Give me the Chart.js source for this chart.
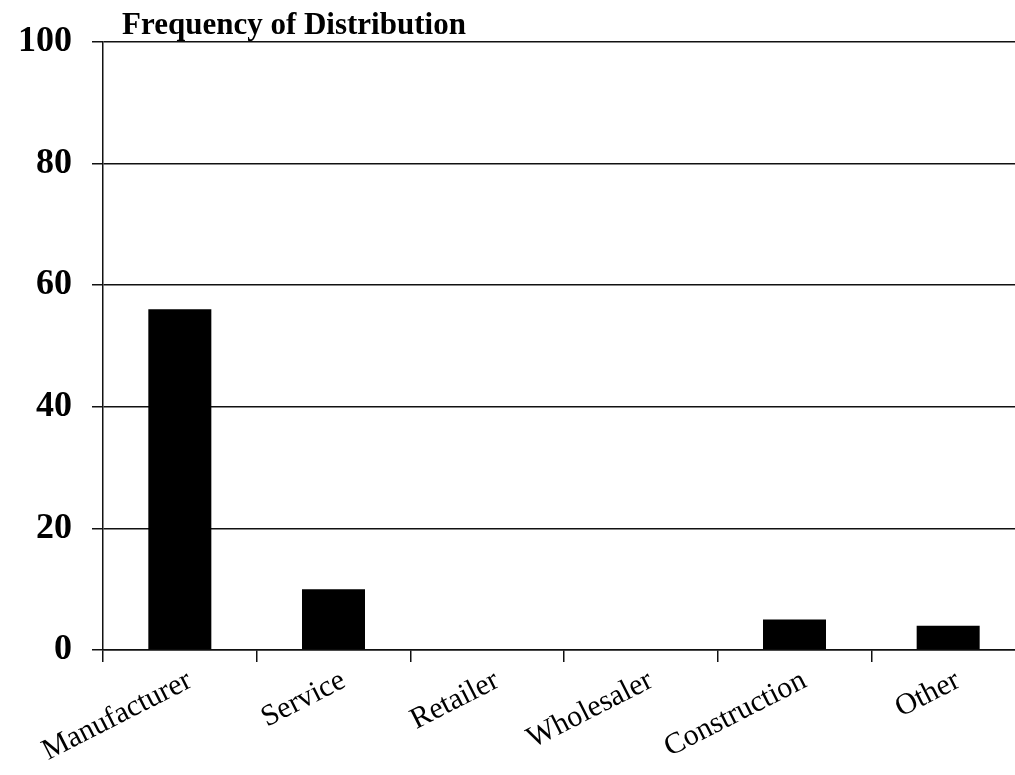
<!DOCTYPE html>
<html>
<head>
<meta charset="utf-8">
<script src="https://cdn.jsdelivr.net/npm/chart.js@4/dist/chart.umd.min.js"></script>
<style>
  html, body { margin: 0; padding: 0; background: #fff; overflow: hidden; }
  #wrap { width: 1026px; height: 775px; }
</style>
</head>
<body>
<div id="wrap"><canvas id="c" width="1026" height="775"></canvas></div>
<script>
// Respondent counts by business type
const categories = ['Manufacturer', 'Service', 'Retailer', 'Wholesaler', 'Construction', 'Other'];
const frequency = [56, 10, 0, 0, 5, 4];
const yTicks = [0, 20, 40, 60, 80, 100];
const chartTitle = 'Frequency of Distribution';

const SERIF = '"Liberation Serif", "Times New Roman", Times, serif';

// Title drawn just above the plot area, left-aligned near the y axis
const titlePlugin = {
  id: 'plotTitle',
  afterDraw(chart) {
    const { ctx, chartArea } = chart;
    ctx.save();
    ctx.font = 'bold 31px ' + SERIF;
    ctx.fillStyle = '#000';
    ctx.textAlign = 'left';
    ctx.textBaseline = 'alphabetic';
    ctx.fillText(chartTitle, chartArea.left + 19, chartArea.top - 8);
    ctx.restore();
  }
};

new Chart(document.getElementById('c'), {
  type: 'bar',
  data: {
    labels: categories,
    datasets: [{
      data: frequency,
      backgroundColor: '#000',
      borderWidth: 0,
      categoryPercentage: 1.0,
      barPercentage: 0.41
    }]
  },
  options: {
    responsive: false,
    animation: false,
    devicePixelRatio: 1,
    layout: { padding: { top: 41, right: 1, left: 0, bottom: 0 } },
    plugins: {
      legend: { display: false },
      tooltip: { enabled: false },
      title: { display: false }
    },
    scales: {
      x: {
        offset: true,
        grid: {
          display: true,
          offset: true,
          drawOnChartArea: false,
          drawTicks: true,
          tickLength: 12,
          color: '#111',
          lineWidth: 1.5
        },
        border: { display: true, color: '#111', width: 1.5 },
        ticks: {
          autoSkip: false,
          minRotation: 27,
          maxRotation: 27,
          padding: 1,
          labelOffset: 10,
          color: '#000',
          font: { family: SERIF, size: 30, weight: 'normal' }
        },
        afterFit(scale) { scale.height = 125; }
      },
      y: {
        min: 0,
        max: 100,
        afterBuildTicks(scale) { scale.ticks = yTicks.map(v => ({ value: v })); },
        grid: {
          color: '#111',
          lineWidth: 1.5,
          drawTicks: true,
          tickLength: 11
        },
        border: { display: true, color: '#111', width: 1.5 },
        ticks: {
          padding: 20,
          color: '#000',
          font: { family: SERIF, size: 36, weight: 'bold' }
        },
        afterFit(scale) { scale.width = 103; }
      }
    }
  },
  plugins: [titlePlugin]
});
</script>
</body>
</html>
